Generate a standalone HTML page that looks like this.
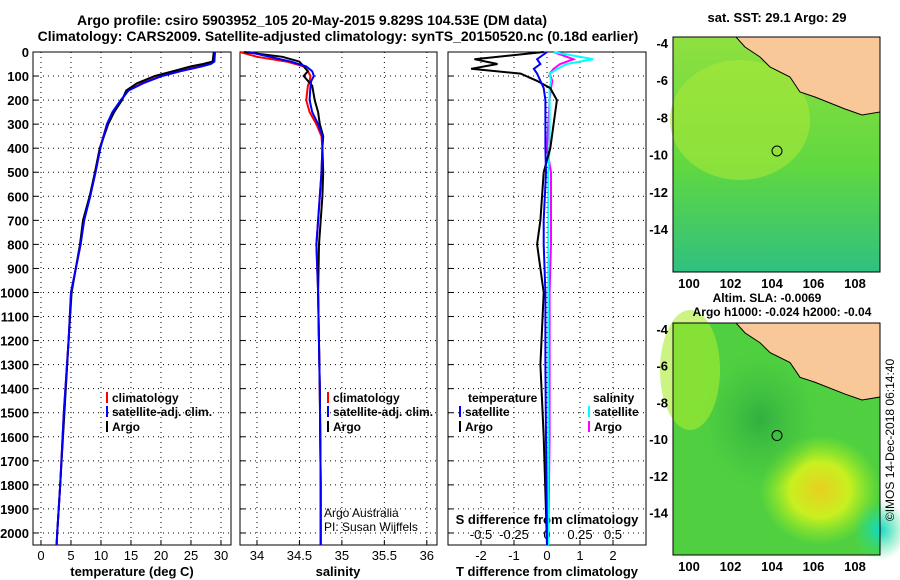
<!DOCTYPE html>
<html><head><meta charset="utf-8"><style>
body{margin:0;background:#fff}
svg{display:block;font-family:"Liberation Sans",sans-serif;font-weight:bold}
</style></head><body>
<svg id="c" width="900" height="580">
<defs>
<radialGradient id="g1" cx="0.5" cy="0.5" r="0.5"><stop offset="0" stop-color="#e8d020"/><stop offset="0.5" stop-color="#c8f020"/><stop offset="1" stop-color="#a0f020" stop-opacity="0"/></radialGradient>
<radialGradient id="g2" cx="0.5" cy="0.5" r="0.5"><stop offset="0" stop-color="#10d8c8"/><stop offset="1" stop-color="#30e080" stop-opacity="0"/></radialGradient>
<radialGradient id="g3" cx="0.5" cy="0.5" r="0.5"><stop offset="0" stop-color="#30b040"/><stop offset="1" stop-color="#40c040" stop-opacity="0"/></radialGradient>
<linearGradient id="sst" x1="0" y1="0" x2="0" y2="1"><stop offset="0" stop-color="#90e040"/><stop offset="0.55" stop-color="#60d840"/><stop offset="1" stop-color="#30c080"/></linearGradient>
</defs>
</svg>
<script>
const depthT=[0,40,50,60,80,100,130,160,200,250,300,400,500,600,700,800,1000,1200,1500,1800,2000,2050];
const climT=[29,28.8,28,26.5,23,20,16.8,14.5,13.4,12,11,9.8,9,8.2,7.1,6.6,5,4.6,3.8,3.2,2.7,2.6];
const satT=[29,28.9,28.3,26.8,23.3,20.2,17,14.6,13.3,11.9,11,9.9,9.1,8.2,7.2,6.6,5,4.6,3.8,3.2,2.7,2.6];
const argoT=[28.8,28.6,27,25,22,19,16,14.2,13.5,12.2,11.2,9.8,9,8.1,7,6.5,5.1,4.6,3.9,3.2,2.7,2.6];
const depthS=[0,20,40,60,80,100,120,140,200,250,300,350,400,500,600,800,1000,1400,1800,2050];
const climS=[33.8,34.0,34.35,34.55,34.6,34.63,34.62,34.6,34.58,34.62,34.7,34.76,34.77,34.76,34.74,34.7,34.72,34.74,34.75,34.75];
const satS=[33.9,34.15,34.4,34.58,34.65,34.67,34.64,34.63,34.62,34.65,34.72,34.77,34.77,34.76,34.74,34.7,34.72,34.74,34.75,34.75];
const argoS=[33.85,34.3,34.5,34.55,34.6,34.55,34.6,34.65,34.68,34.72,34.74,34.78,34.77,34.78,34.77,34.73,34.72,34.74,34.75,34.75];
const depthD=[0,30,50,70,90,120,150,200,300,400,500,700,800,1000,1300,1600,2050];
const argoTd=[-0.1,-2.2,-1.5,-2.3,-0.8,-0.3,0.1,0.3,0.2,0.1,-0.1,-0.2,-0.3,-0.1,-0.2,-0.1,0];
const satTd=[0,-0.3,-0.2,-0.4,-0.3,-0.2,-0.1,-0.05,-0.05,-0.05,-0.03,-0.1,-0.1,-0.05,-0.05,-0.03,0];
const satSd=[0.05,0.35,0.15,0.08,0.02,0.03,0.02,0.02,0.02,0.02,0.01,0.01,0.01,0.01,0.01,0.01,0.01];
const argoSd=[0.05,0.2,0.1,0.05,0.02,0.04,0.03,0.02,0.01,0.0,0.03,0.03,0.03,0.02,0.02,0.02,0.01];
const depthTicks=[0,100,200,300,400,500,600,700,800,900,1000,1100,1200,1300,1400,1500,1600,1700,1800,1900,2000];
const tTicks=[0,5,10,15,20,25,30];
const sTicks=[34,34.5,35,35.5,36];
const tdTicks=[-2,-1,0,1,2];
const sdTicks=[-0.5,-0.25,0,0.25,0.5];
const sdLabels=['-0.5','-0.25','0','0.25','0.5'];

const svg=document.getElementById('c');
const NS='http://www.w3.org/2000/svg';
function mk(t,a,txt){const e=document.createElementNS(NS,t);for(const k in a)e.setAttribute(k,a[k]);if(txt!==undefined)e.textContent=txt;svg.appendChild(e);return e;}
const Y0=52,Y1=545;
const yD=d=>Y0+d*(Y1-Y0)/2050;
const P=[{x0:33,x1:231,v0:-1.33,v1:31.67},{x0:240,x1:437,v0:33.8,v1:36.12},{x0:448,x1:646,v0:-3,v1:3}];
const sx=(p,v)=>p.x0+(v-p.v0)*(p.x1-p.x0)/(p.v1-p.v0);
const sdx=v=>547+v*132;

// maps backgrounds
function map(y0,y1,top){
  const g=mk('g',{});
  
  
  mk('rect',{x:673,y:y0,width:207,height:y1-y0,fill:top?'url(#sst)':'#50d040'});
  if(top){mk('ellipse',{cx:740,cy:120,rx:70,ry:60,fill:'#a8e838',opacity:0.6});}
  else{mk('ellipse',{cx:820,cy:490,rx:60,ry:55,fill:'url(#g1)'});mk('ellipse',{cx:880,cy:530,rx:28,ry:30,fill:'url(#g2)'});mk('ellipse',{cx:760,cy:420,rx:60,ry:70,fill:'url(#g3)'});mk('ellipse',{cx:690,cy:370,rx:30,ry:60,fill:'#a8ec30',opacity:0.6});}
  const h=(y1-y0)/235;
  mk('path',{d:`M736 ${y0} L880 ${y0} L880 ${y0+75*h} L862 ${y0+78*h} L845 ${y0+72*h} L815 ${y0+60*h} L800 ${y0+55*h} L790 ${y0+40*h} L770 ${y0+30*h} L760 ${y0+20*h} L745 ${y0+10*h} Z`,fill:'#f8c898',stroke:'#000','stroke-width':1});
  mk('circle',{cx:777,cy:y0+114*h,r:5,fill:'none',stroke:'#000'});
  mk('rect',{x:673,y:y0,width:207,height:y1-y0,fill:'none',stroke:'#000'});
  const lons=[100,102,104,106,108],lats=[-4,-6,-8,-10,-12,-14];
  lons.forEach(l=>mk('text',{x:689+(l-100)*20.75,y:y1+16,'font-size':13,'text-anchor':'middle'},String(l)));
  lats.forEach(l=>mk('text',{x:668,y:y0+7+(-4-l)*18.6*h+4,'font-size':13,'text-anchor':'end'},String(l)));
}
map(37,272,true);map(323,555,false);
mk('text',{x:777,y:22,'font-size':13,'text-anchor':'middle'},'sat. SST: 29.1 Argo: 29');
mk('text',{x:767,y:302,'font-size':12,'text-anchor':'middle'},'Altim. SLA: -0.0069');
mk('text',{x:782,y:316,'font-size':12,'text-anchor':'middle'},'Argo h1000: -0.024 h2000: -0.04');
mk('text',{x:894,y:440,'font-size':12,'font-weight':'normal','text-anchor':'middle',transform:'rotate(-90 894 440)'},'©IMOS 14-Dec-2018 06:14:40');

// titles
mk('text',{x:312,y:25,'font-size':14,'text-anchor':'middle'},'Argo profile: csiro 5903952_105 20-May-2015 9.829S 104.53E (DM data)');
mk('text',{x:338,y:41,'font-size':14,'text-anchor':'middle'},'Climatology: CARS2009. Satellite-adjusted climatology: synTS_20150520.nc (0.18d earlier)');

// panels
const xt=[tTicks,sTicks,tdTicks];
P.forEach((p,i)=>{
  depthTicks.forEach(d=>{const y=yD(d);mk('line',{x1:p.x0,x2:p.x1,y1:y,y2:y,stroke:'#000','stroke-dasharray':'1,4'});mk('line',{x1:p.x0,x2:p.x0+5,y1:y,y2:y,stroke:'#000'});});
  xt[i].forEach(v=>{const x=sx(p,v);mk('line',{x1:x,x2:x,y1:Y0,y2:Y1,stroke:'#000','stroke-dasharray':'1,4'});mk('line',{x1:x,x2:x,y1:Y1,y2:Y1-5,stroke:'#000'});mk('text',{x:x,y:Y1+15,'font-size':13,'text-anchor':'middle','font-weight':'normal'},String(v));});
  mk('rect',{x:p.x0,y:Y0,width:p.x1-p.x0,height:Y1-Y0,fill:'none',stroke:'#000'});
});
depthTicks.forEach(d=>mk('text',{x:29,y:yD(d)+5,'font-size':13,'text-anchor':'end'},String(d)));
mk('text',{x:132,y:576,'font-size':13,'text-anchor':'middle'},'temperature (deg C)');
mk('text',{x:338,y:576,'font-size':13,'text-anchor':'middle'},'salinity');
mk('text',{x:547,y:576,'font-size':13,'text-anchor':'middle'},'T difference from climatology');
mk('text',{x:547,y:524,'font-size':13,'text-anchor':'middle'},'S difference from climatology');
sdTicks.forEach((v,i)=>mk('text',{x:sdx(v),y:539,'font-size':13,'text-anchor':'middle','font-weight':'normal'},sdLabels[i]));

function line(name,xs,ds,f,col,w){
  const pts=xs.map((v,i)=>f(v).toFixed(1)+','+yD(ds[i]).toFixed(1)).join(' ');
  const e=mk('polyline',{points:pts,fill:'none',stroke:col,'stroke-width':w||2});
  
  
}
line('temp-climatology',climT,depthT,v=>sx(P[0],v),'#f00');
line('temp-argo',argoT,depthT,v=>sx(P[0],v),'#000');
line('temp-satellite',satT,depthT,v=>sx(P[0],v),'#00f');
line('sal-climatology',climS,depthS,v=>sx(P[1],v),'#f00');
line('sal-argo',argoS,depthS,v=>sx(P[1],v),'#000');
line('sal-satellite',satS,depthS,v=>sx(P[1],v),'#00f');
line('sdiff-argo',argoSd,depthD,sdx,'#f0f');
line('sdiff-satellite',satSd,depthD,sdx,'#0ff');
line('tdiff-argo',argoTd,depthD,v=>sx(P[2],v),'#000');
line('tdiff-satellite',satTd,depthD,v=>sx(P[2],v),'#00f');

function leg(x,y,col,txt){mk('rect',{x:x,y:y-10,width:2,height:11,fill:col});mk('text',{x:x+6,y:y,'font-size':12},txt);}
leg(106,402,'#f00','climatology');leg(106,416,'#00f','satellite-adj. clim.');leg(106,431,'#000','Argo');
leg(327,402,'#f00','climatology');leg(327,416,'#00f','satellite-adj. clim.');leg(327,431,'#000','Argo');
mk('text',{x:468,y:402,'font-size':12},'temperature');
leg(459,416,'#00f','satellite');leg(459,431,'#000','Argo');
mk('text',{x:593,y:402,'font-size':12},'salinity');
leg(588,416,'#0ff','satellite');leg(588,431,'#f0f','Argo');
mk('text',{x:324,y:517,'font-size':12,'font-weight':'normal'},'Argo Australia');
mk('text',{x:324,y:531,'font-size':12,'font-weight':'normal'},'PI: Susan Wijffels');
</script>
</body></html>
